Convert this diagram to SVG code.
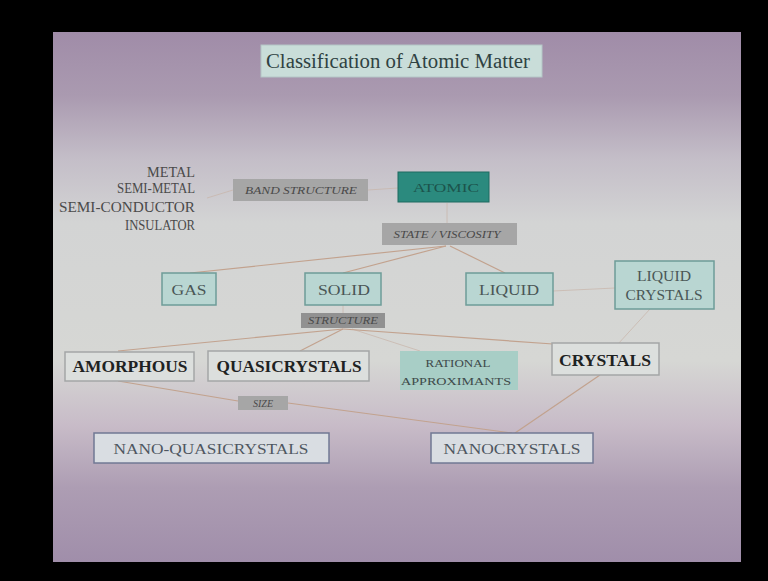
<svg xmlns="http://www.w3.org/2000/svg" width="768" height="581" viewBox="0 0 768 581">
  <defs>
    <linearGradient id="slideBg" x1="0" y1="0" x2="0" y2="1">
      <stop offset="0" stop-color="#a08ca8"/>
      <stop offset="0.12" stop-color="#aa9ab0"/>
      <stop offset="0.24" stop-color="#c4bec8"/>
      <stop offset="0.36" stop-color="#d3d4d4"/>
      <stop offset="0.62" stop-color="#d6d7d4"/>
      <stop offset="0.74" stop-color="#c8bcc8"/>
      <stop offset="0.86" stop-color="#ad9db3"/>
      <stop offset="1" stop-color="#a08eaa"/>
    </linearGradient>
    <style>
      text { font-family: "Liberation Serif", "Times New Roman", serif; }
      .link { stroke: #c2a28e; stroke-width: 1.2; fill: none; }
      .faint { stroke: #c8b4a8; stroke-width: 1; fill: none; opacity: 0.7; }
      .state { fill: #b9d6d2; stroke: #6e9c98; stroke-width: 1.5; }
      .stateTxt { font-size: 15px; fill: #4a5656; text-anchor: middle; }
      .cls { fill: #dcdfdd; stroke: #a4a6a6; stroke-width: 1.5; }
      .clsTxt { font-size: 16.5px; font-weight: bold; fill: #1e2222; text-anchor: middle; }
      .nano { fill: #d9dde2; stroke: #707894; stroke-width: 1.5; }
      .nanoTxt { font-size: 15.5px; fill: #4e5660; text-anchor: middle; }
      .tag { fill: #a6a6a6; }
      .tagTxt { font-size: 10px; font-style: italic; fill: #4a4a4a; text-anchor: middle; }
      .side { font-size: 14.5px; fill: #4a4a4a; text-anchor: end; }
    </style>
  </defs>

  <!-- black surround and slide -->
  <rect x="0" y="0" width="768" height="581" fill="#000"/>
  <rect x="53" y="32" width="688" height="530" fill="url(#slideBg)"/>

  <!-- title -->
  <g id="title">
    <rect x="261" y="45" width="281" height="32" fill="#c9ddd9" stroke="#b4c6c6" stroke-width="1"/>
    <text x="398" y="68" font-size="20" fill="#2f4242" text-anchor="middle" textLength="264" lengthAdjust="spacingAndGlyphs">Classification of Atomic Matter</text>
  </g>

  <!-- connectors -->
  <g id="connectors">
    <line class="faint" x1="207" y1="198" x2="233" y2="190"/>
    <line class="faint" x1="368" y1="190" x2="398" y2="188"/>
    <line class="faint" x1="447" y1="203" x2="447" y2="223"/>
    <line class="link" x1="446" y1="246" x2="190" y2="273"/>
    <line class="link" x1="446" y1="246" x2="343" y2="273"/>
    <line class="link" x1="450" y1="246" x2="505" y2="273"/>
    <line class="faint" x1="553" y1="291" x2="615" y2="288"/>
    <line class="faint" x1="343" y1="305" x2="343" y2="313"/>
    <line class="link" x1="343" y1="329" x2="118" y2="351"/>
    <line class="link" x1="343" y1="329" x2="300" y2="351"/>
    <line class="faint" x1="352" y1="329" x2="420" y2="351"/>
    <line class="link" x1="343" y1="329" x2="553" y2="344"/>
    <line class="link" x1="118" y1="381" x2="238" y2="401"/>
    <line class="link" x1="288" y1="403" x2="512" y2="433"/>
    <line class="link" x1="600" y1="375" x2="515" y2="433"/>
    <line class="faint" x1="650" y1="309" x2="618" y2="344"/>
  </g>

  <!-- band-structure classes -->
  <g id="band-classes">
    <text class="side" x="195" y="177" textLength="48" lengthAdjust="spacingAndGlyphs">METAL</text>
    <text class="side" x="195" y="193" textLength="78" lengthAdjust="spacingAndGlyphs">SEMI-METAL</text>
    <text class="side" x="195" y="212" textLength="136" lengthAdjust="spacingAndGlyphs">SEMI-CONDUCTOR</text>
    <text class="side" x="195" y="230" textLength="70" lengthAdjust="spacingAndGlyphs">INSULATOR</text>
  </g>

  <g id="band-structure">
    <rect class="tag" x="233" y="179" width="135" height="22"/>
    <text class="tagTxt" x="301" y="194" textLength="112" lengthAdjust="spacingAndGlyphs">BAND STRUCTURE</text>
  </g>

  <g id="atomic">
    <rect x="398" y="172" width="91" height="30" fill="#2b8a7e" stroke="#1f6a60" stroke-width="1"/>
    <text x="446" y="192" font-size="13" fill="#1c544c" text-anchor="middle" textLength="66" lengthAdjust="spacingAndGlyphs">ATOMIC</text>
  </g>

  <g id="state-viscosity">
    <rect class="tag" x="382" y="223" width="135" height="22"/>
    <text class="tagTxt" x="447" y="238" textLength="107" lengthAdjust="spacingAndGlyphs">STATE / VISCOSITY</text>
  </g>

  <!-- states of matter -->
  <g id="gas">
    <rect class="state" x="162" y="273" width="54" height="32"/>
    <text class="stateTxt" x="189" y="295" textLength="35" lengthAdjust="spacingAndGlyphs">GAS</text>
  </g>
  <g id="solid">
    <rect class="state" x="305" y="273" width="76" height="32"/>
    <text class="stateTxt" x="344" y="295" textLength="52" lengthAdjust="spacingAndGlyphs">SOLID</text>
  </g>
  <g id="liquid">
    <rect class="state" x="466" y="273" width="87" height="32"/>
    <text class="stateTxt" x="509" y="295" textLength="60" lengthAdjust="spacingAndGlyphs">LIQUID</text>
  </g>
  <g id="liquid-crystals">
    <rect class="state" x="615" y="261" width="99" height="48"/>
    <text class="stateTxt" x="664" y="281" font-size="14" textLength="54" lengthAdjust="spacingAndGlyphs">LIQUID</text>
    <text class="stateTxt" x="664" y="300" font-size="14" textLength="77" lengthAdjust="spacingAndGlyphs">CRYSTALS</text>
  </g>

  <g id="structure">
    <rect x="301" y="313" width="84" height="15" fill="#919191"/>
    <text class="tagTxt" x="343" y="324" textLength="70" lengthAdjust="spacingAndGlyphs">STRUCTURE</text>
  </g>

  <!-- solid structures -->
  <g id="amorphous">
    <rect class="cls" x="65" y="352" width="129" height="29"/>
    <text class="clsTxt" x="130" y="372" textLength="115" lengthAdjust="spacingAndGlyphs">AMORPHOUS</text>
  </g>
  <g id="quasicrystals">
    <rect class="cls" x="208" y="351" width="161" height="30"/>
    <text class="clsTxt" x="289" y="372" textLength="145" lengthAdjust="spacingAndGlyphs">QUASICRYSTALS</text>
  </g>
  <g id="rational-approximants">
    <rect x="400" y="351" width="118" height="39" fill="#a8cec6"/>
    <text x="458" y="367" font-size="11" fill="#3e4a4a" text-anchor="middle" textLength="65" lengthAdjust="spacingAndGlyphs">RATIONAL</text>
    <text x="456" y="385" font-size="11" fill="#3e4a4a" text-anchor="middle" textLength="110" lengthAdjust="spacingAndGlyphs">APPROXIMANTS</text>
  </g>
  <g id="crystals">
    <rect class="cls" x="552" y="343" width="107" height="32"/>
    <text class="clsTxt" x="605" y="366" textLength="92" lengthAdjust="spacingAndGlyphs">CRYSTALS</text>
  </g>

  <g id="size">
    <rect class="tag" x="238" y="396" width="50" height="14" fill="#9c9c9c"/>
    <text class="tagTxt" x="263" y="407">SIZE</text>
  </g>

  <!-- nanoscale -->
  <g id="nano-quasicrystals">
    <rect class="nano" x="94" y="433" width="235" height="30"/>
    <text class="nanoTxt" x="211" y="454" textLength="195" lengthAdjust="spacingAndGlyphs">NANO-QUASICRYSTALS</text>
  </g>
  <g id="nanocrystals">
    <rect class="nano" x="431" y="433" width="162" height="30"/>
    <text class="nanoTxt" x="512" y="454" textLength="137" lengthAdjust="spacingAndGlyphs">NANOCRYSTALS</text>
  </g>
</svg>
